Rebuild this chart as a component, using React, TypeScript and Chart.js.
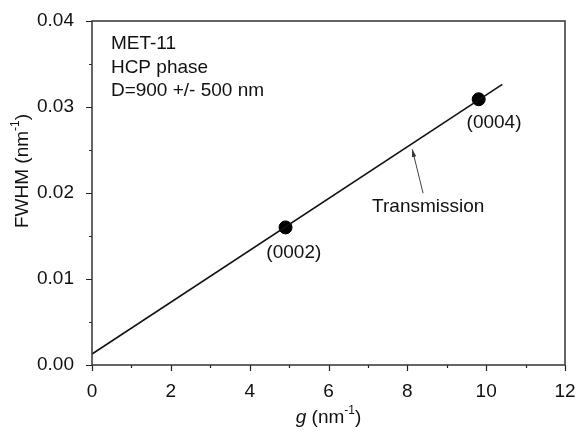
import React, { useEffect, useRef } from "react";
import { Chart, registerables } from "chart.js";

Chart.register(...registerables);

// Data
const fitLineX = [0, 10.41];
const fitLineY = [0.00128, 0.03264];
const peakX = [4.91, 9.81];
const peakY = [0.016, 0.0309];
const peakLabels = ["(0002)", "(0004)"];
const peakLabelX = [5.12, 10.2];
const peakLabelY = [0.01306, 0.02817];
const infoLines = ["MET-11", "HCP phase", "D=900 +/- 500 nm"];
const infoX = 0.48;
const infoY = [0.03733, 0.03453, 0.03186];
const arrowLabel = "Transmission";
const arrowLabelX = 8.53;
const arrowLabelY = 0.01841;
const arrowFrom = [8.4, 0.01997];
const arrowTo = [8.125, 0.02508];
const xTicksMajor = [0, 2, 4, 6, 8, 10, 12];
const xTicksMinor = [1, 3, 5, 7, 9, 11];
const yTicksMajor = [0, 0.01, 0.02, 0.03, 0.04];
const yTicksMinor = [0.005, 0.015, 0.025, 0.035];

const FONT = "Liberation Sans, Arial, sans-serif";
const FS = 19;

const overlay = {
  id: "overlay",
  afterDraw(chart: any) {
    const ctx = chart.ctx;
    const xs = chart.scales.x;
    const ys = chart.scales.y;
    const a = chart.chartArea;
    ctx.save();
    ctx.strokeStyle = "#222";
    ctx.lineWidth = 1.2;
    // ticks
    ctx.beginPath();
    for (const v of xTicksMajor) {
      const px = Math.round(xs.getPixelForValue(v)) + 0.5;
      ctx.moveTo(px, a.bottom);
      ctx.lineTo(px, a.bottom + 6);
    }
    for (const v of xTicksMinor) {
      const px = Math.round(xs.getPixelForValue(v)) + 0.5;
      ctx.moveTo(px, a.bottom);
      ctx.lineTo(px, a.bottom + 3);
    }
    for (const v of yTicksMajor) {
      const py = Math.round(ys.getPixelForValue(v)) + 0.5;
      ctx.moveTo(a.left, py);
      ctx.lineTo(a.left - 6, py);
    }
    for (const v of yTicksMinor) {
      const py = Math.round(ys.getPixelForValue(v)) + 0.5;
      ctx.moveTo(a.left, py);
      ctx.lineTo(a.left - 3, py);
    }
    ctx.stroke();

    // frame
    ctx.strokeStyle = "#333";
    ctx.lineWidth = 1.5;
    ctx.strokeRect(a.left, a.top, a.right - a.left, a.bottom - a.top);

    ctx.fillStyle = "#111";
    ctx.textBaseline = "middle";
    // info text
    ctx.font = `${FS}px ${FONT}`;
    ctx.textAlign = "left";
    infoLines.forEach((t, i) => {
      ctx.fillText(t, xs.getPixelForValue(infoX), ys.getPixelForValue(infoY[i]));
    });
    // peak labels
    ctx.textAlign = "center";
    peakLabels.forEach((t, i) => {
      ctx.fillText(t, xs.getPixelForValue(peakLabelX[i]), ys.getPixelForValue(peakLabelY[i]));
    });
    ctx.fillText(arrowLabel, xs.getPixelForValue(arrowLabelX), ys.getPixelForValue(arrowLabelY));

    // arrow
    const x1 = xs.getPixelForValue(arrowFrom[0]);
    const y1 = ys.getPixelForValue(arrowFrom[1]);
    const x2 = xs.getPixelForValue(arrowTo[0]);
    const y2 = ys.getPixelForValue(arrowTo[1]);
    ctx.strokeStyle = "#444";
    ctx.lineWidth = 1;
    ctx.beginPath();
    ctx.moveTo(x1, y1);
    ctx.lineTo(x2, y2);
    ctx.stroke();
    const ang = Math.atan2(y2 - y1, x2 - x1);
    const hl = 8;
    ctx.fillStyle = "#333";
    ctx.beginPath();
    ctx.moveTo(x2, y2);
    ctx.lineTo(x2 - hl * Math.cos(ang - 0.28), y2 - hl * Math.sin(ang - 0.28));
    ctx.lineTo(x2 - hl * Math.cos(ang + 0.28), y2 - hl * Math.sin(ang + 0.28));
    ctx.closePath();
    ctx.fill();

    // axis titles
    ctx.fillStyle = "#111";
    const cx = (a.left + a.right) / 2;
    const ty = 418;
    ctx.textAlign = "left";
    ctx.font = `italic ${FS}px ${FONT}`;
    const gW = ctx.measureText("g").width;
    ctx.font = `${FS}px ${FONT}`;
    const p1 = " (nm";
    const p1W = ctx.measureText(p1).width;
    ctx.font = `12px ${FONT}`;
    const supW = ctx.measureText("-1").width;
    ctx.font = `${FS}px ${FONT}`;
    const p2W = ctx.measureText(")").width;
    let sx = cx - (gW + p1W + supW + p2W) / 2;
    ctx.font = `italic ${FS}px ${FONT}`;
    ctx.fillText("g", sx, ty);
    sx += gW;
    ctx.font = `${FS}px ${FONT}`;
    ctx.fillText(p1, sx, ty);
    sx += p1W;
    ctx.font = `12px ${FONT}`;
    ctx.fillText("-1", sx, ty - 7);
    sx += supW;
    ctx.font = `${FS}px ${FONT}`;
    ctx.fillText(")", sx, ty);

    // y title
    ctx.save();
    ctx.translate(23, 171);
    ctx.rotate(-Math.PI / 2);
    ctx.font = `${FS}px ${FONT}`;
    const q1 = "FWHM (nm";
    const q1W = ctx.measureText(q1).width;
    ctx.font = `12px ${FONT}`;
    const qsW = ctx.measureText("-1").width;
    ctx.font = `${FS}px ${FONT}`;
    const q2W = ctx.measureText(")").width;
    let qx = -(q1W + qsW + q2W) / 2;
    ctx.fillText(q1, qx, 0);
    qx += q1W;
    ctx.font = `12px ${FONT}`;
    ctx.fillText("-1", qx, -7);
    qx += qsW;
    ctx.font = `${FS}px ${FONT}`;
    ctx.fillText(")", qx, 0);
    ctx.restore();

    ctx.restore();
  },
};

const bg = {
  id: "bg",
  beforeDraw(chart: any) {
    const ctx = chart.ctx;
    ctx.save();
    ctx.fillStyle = "#fff";
    ctx.fillRect(0, 0, chart.width, chart.height);
    ctx.restore();
  },
};

export default function App() {
  const ref = useRef<HTMLCanvasElement>(null);
  useEffect(() => {
    if (!ref.current) return;
    const chart = new Chart(ref.current, {
      type: "scatter",
      data: {
        datasets: [
          {
            type: "line",
            data: fitLineX.map((x, i) => ({ x, y: fitLineY[i] })),
            borderColor: "#111",
            borderWidth: 1.6,
            pointRadius: 0,
            showLine: true,
            fill: false,
          },
          {
            data: peakX.map((x, i) => ({ x, y: peakY[i] })),
            backgroundColor: "#000",
            borderColor: "#000",
            pointRadius: 6.5,
            pointHoverRadius: 6.5,
          },
        ],
      },
      options: {
        responsive: false,
        animation: false,
        events: [],
        layout: { padding: { left: 0, top: 21, right: 11, bottom: 0 } },
        plugins: {
          legend: { display: false },
          tooltip: { enabled: false },
        },
        scales: {
          x: {
            type: "linear",
            min: 0,
            max: 12,
            afterFit: (s: any) => {
              s.height = 66;
              s.paddingLeft = 0;
              s.paddingRight = 0;
            },
            afterBuildTicks: (s: any) => {
              s.ticks = xTicksMajor.map((v) => ({ value: v }));
            },
            grid: { display: false },
            border: { display: false },
            ticks: {
              color: "#111",
              font: { family: FONT, size: FS },
              padding: 7,
              maxRotation: 0,
              callback: (v: any) => String(v),
            },
          },
          y: {
            type: "linear",
            min: 0,
            max: 0.04,
            afterFit: (s: any) => {
              s.width = 92;
              s.paddingTop = 0;
              s.paddingBottom = 0;
            },
            afterBuildTicks: (s: any) => {
              s.ticks = yTicksMajor.map((v) => ({ value: v }));
            },
            grid: { display: false },
            border: { display: false },
            ticks: {
              color: "#111",
              font: { family: FONT, size: FS },
              padding: 10,
              callback: (v: any) => Number(v).toFixed(2),
            },
          },
        },
      },
      plugins: [bg, overlay],
    });
    return () => chart.destroy();
  }, []);
  return (
    <div style={{ position: "fixed", left: 0, top: 0, width: 576, height: 431, background: "#fff" }}>
      <canvas ref={ref} width={576} height={431} style={{ width: 576, height: 431 }} />
    </div>
  );
}
